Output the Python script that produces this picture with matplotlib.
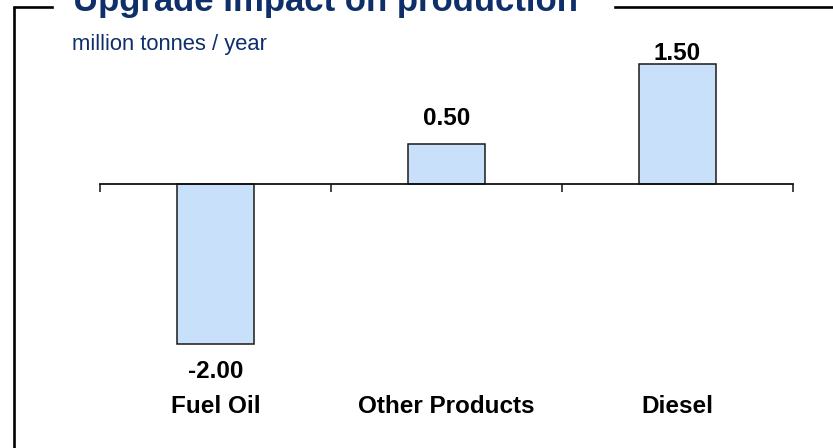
import matplotlib
matplotlib.use("Agg")
import matplotlib.pyplot as plt
from matplotlib import font_manager
from matplotlib.lines import Line2D

# data
categories = ["Fuel Oil", "Other Products", "Diesel"]
values = [-2.00, 0.50, 1.50]
value_labels = ["-2.00", "0.50", "1.50"]

# fonts
plt.rcParams['font.family'] = ['Liberation Sans', 'DejaVu Sans']
try:
    font_manager.findfont("Liberation Sans Narrow", fallback_to_default=False)
    narrow = "Liberation Sans Narrow"
except Exception:
    narrow = "Liberation Sans"

navy = "#0E2F69"
bar_fill = "#C8E0FA"

W, H = 833, 448
fig = plt.figure(figsize=(W / 100, H / 100), dpi=100)

# plot area: x 100..793 px, y 24..424 px (value 2 .. -3)
ax = fig.add_axes([100 / W, (H - 424) / H, 693 / W, 400 / H])
x = [i + 0.5 for i in range(len(categories))]
ax.bar(x, values, width=0.33, color=bar_fill, edgecolor="#1a1a1a", linewidth=1.1, zorder=2)
ax.set_xlim(0, 3)
ax.set_ylim(-3, 2)

for s in ["top", "right", "left"]:
    ax.spines[s].set_visible(False)
ax.spines["bottom"].set_position(("data", 0))
ax.spines["bottom"].set_linewidth(1.3)
ax.spines["bottom"].set_color("#111111")
ax.set_xticks([0, 1, 2, 3])
ax.set_xticklabels([])
ax.tick_params(axis="x", direction="out", length=6, width=1.1, color="#111111")
ax.set_yticks([])
ax.patch.set_visible(False)

# value labels (pixel offsets from bar end)
offsets = [-16, 19, 4]
for xi, v, lab, off in zip(x, values, value_labels, offsets):
    ax.annotate(lab, (xi, v), xytext=(0, off), textcoords="offset pixels",
                ha="center", va="top" if v < 0 else "baseline",
                fontsize=17.5, fontweight="bold", color="black")

# category labels
for xi, cat in zip(x, categories):
    ax.text(xi, (424 - 413) / 400, cat, transform=ax.get_xaxis_transform(),
            ha="center", va="baseline", fontsize=17.5, fontweight="bold", color="black")

# frame around the chart, broken by the title
lw = 1.9
fig.add_artist(Line2D([14 / W, 14 / W], [0, (H - 7) / H], color="black", lw=lw,
                      transform=fig.transFigure, solid_capstyle="butt"))
fig.add_artist(Line2D([14 / W, 52 / W], [(H - 7) / H, (H - 7) / H], color="black", lw=lw,
                      transform=fig.transFigure))
fig.add_artist(Line2D([615 / W, 1], [(H - 7) / H, (H - 7) / H], color="black", lw=lw,
                      transform=fig.transFigure))

fig.text(73 / W, (H - 11) / H, "Upgrade Impact on production", ha="left", va="baseline",
         fontsize=25, fontweight="bold", color=navy)
fig.text(72 / W, (H - 50) / H, "million tonnes / year", ha="left", va="baseline",
         fontsize=15.8, color=navy, family=[narrow, "DejaVu Sans"])

fig.savefig("out.png", dpi=100)
